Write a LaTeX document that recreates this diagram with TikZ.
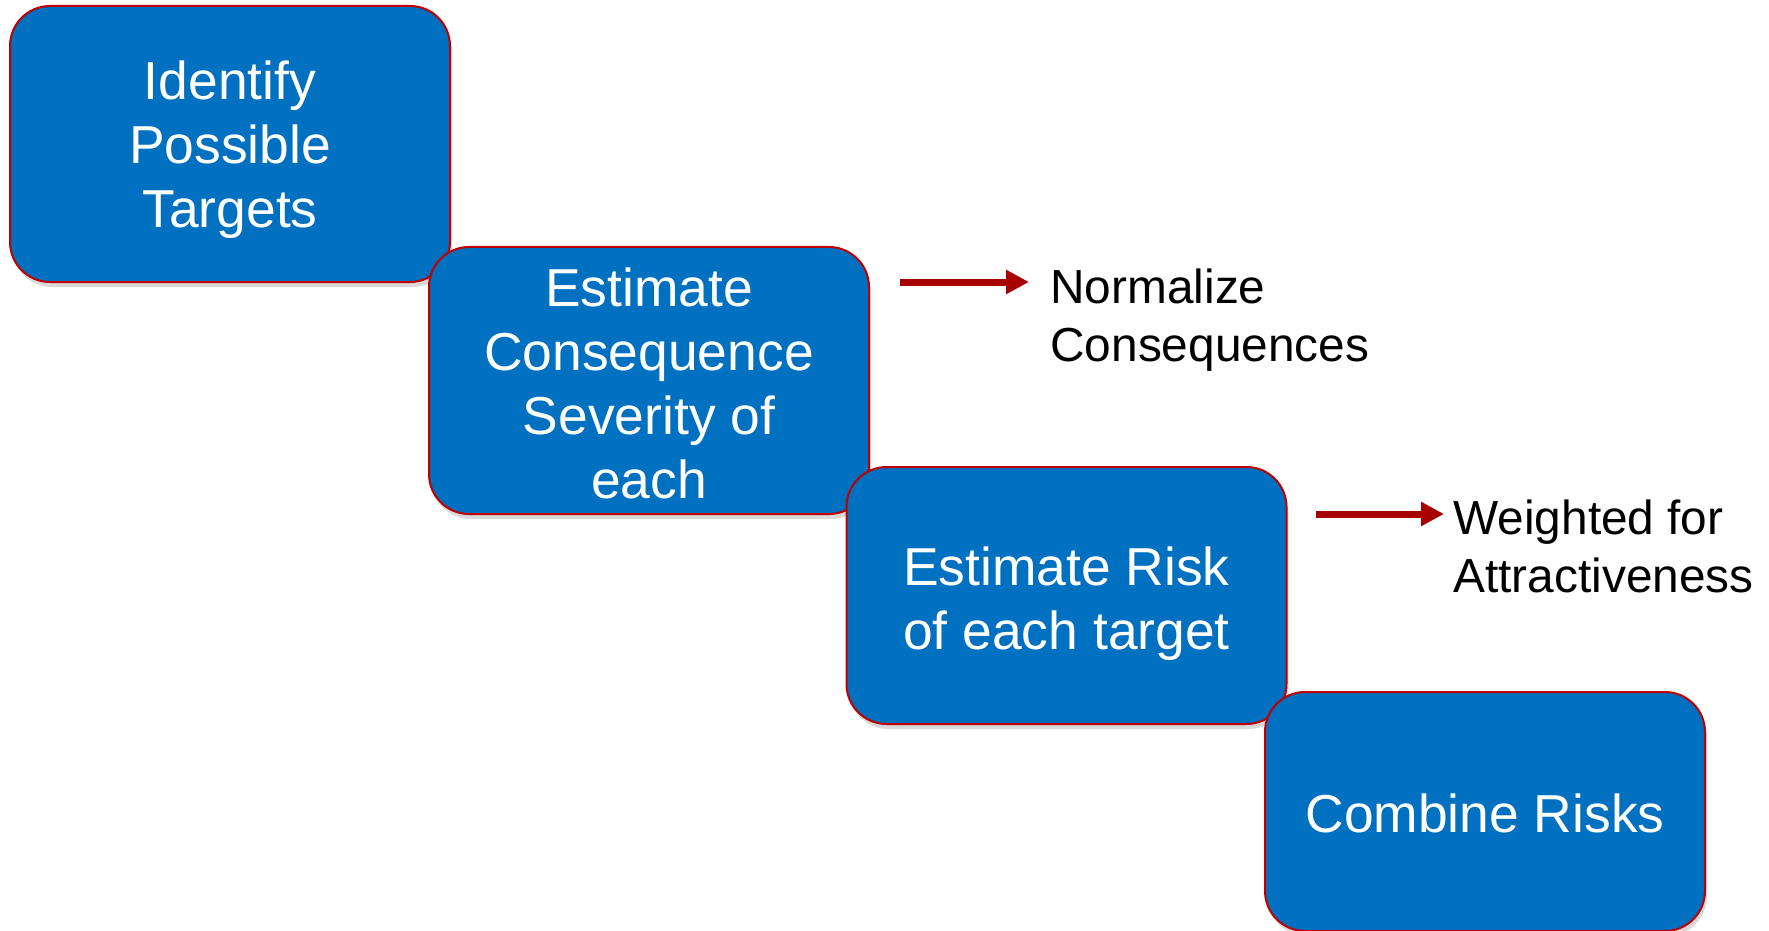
\documentclass[tikz,border=0pt]{standalone}
\usepackage{fontspec}
\setmainfont{Liberation Sans}
\usetikzlibrary{positioning,shadows,arrows.meta}
\definecolor{boxblue}{HTML}{0070C0}
\definecolor{boxred}{HTML}{C00000}
\definecolor{arrred}{HTML}{A80000}

\begin{document}
\begin{tikzpicture}[x=0.5pt,y=-0.5pt,>={Triangle[length=11.5pt,width=11.5pt]}]
\tikzstyle{S}=[draw=boxred,line width=1pt,fill=boxblue,rounded corners=20pt,minimum width=220pt,inner sep=0pt,align=center,text=white,font=\fontsize{26.7}{32}\selectfont,drop shadow={shadow xshift=1pt,shadow yshift=-2.5pt,opacity=0.3}]
\tikzstyle{L}=[anchor=west,inner sep=0pt,align=left,font=\fontsize{23.9}{29}\selectfont]
\tikzstyle{A}=[->,draw=arrred,line width=3.5pt]
\useasboundingbox (0,0) rectangle (1769,931);
\node[S,minimum height=138pt] (st1) at (230,144) {\rule{0pt}{25.3pt}Identify\\Possible\\Targets};
\node[S,minimum height=133.5pt] (st2) at (649,380.5) {\rule{0pt}{22.7pt}Estimate\\Consequence\\Severity of\\each};
\node[S,minimum height=128.5pt] (st3) at (1066.5,595.5) {\rule{0pt}{27.3pt}Estimate Risk\\of each target};
\node[S,minimum height=119.5pt] (st4) at (1485,811.5) {\rule{0pt}{21.5pt}Combine Risks};
\node[L] (nc) at (1050,320.5) {Normalize\\Consequences};
\node[L] (wa) at (1453,546) {Weighted for\\Attractiveness};
\coordinate (a1) at (900,282); \coordinate (a1e) at (1029,282);
\coordinate (a2) at (1316,514); \coordinate (a2e) at (1444,514);
\draw[A] (a1)--(a1e); \draw[A] (a2)--(a2e);
\end{tikzpicture}
\end{document}
